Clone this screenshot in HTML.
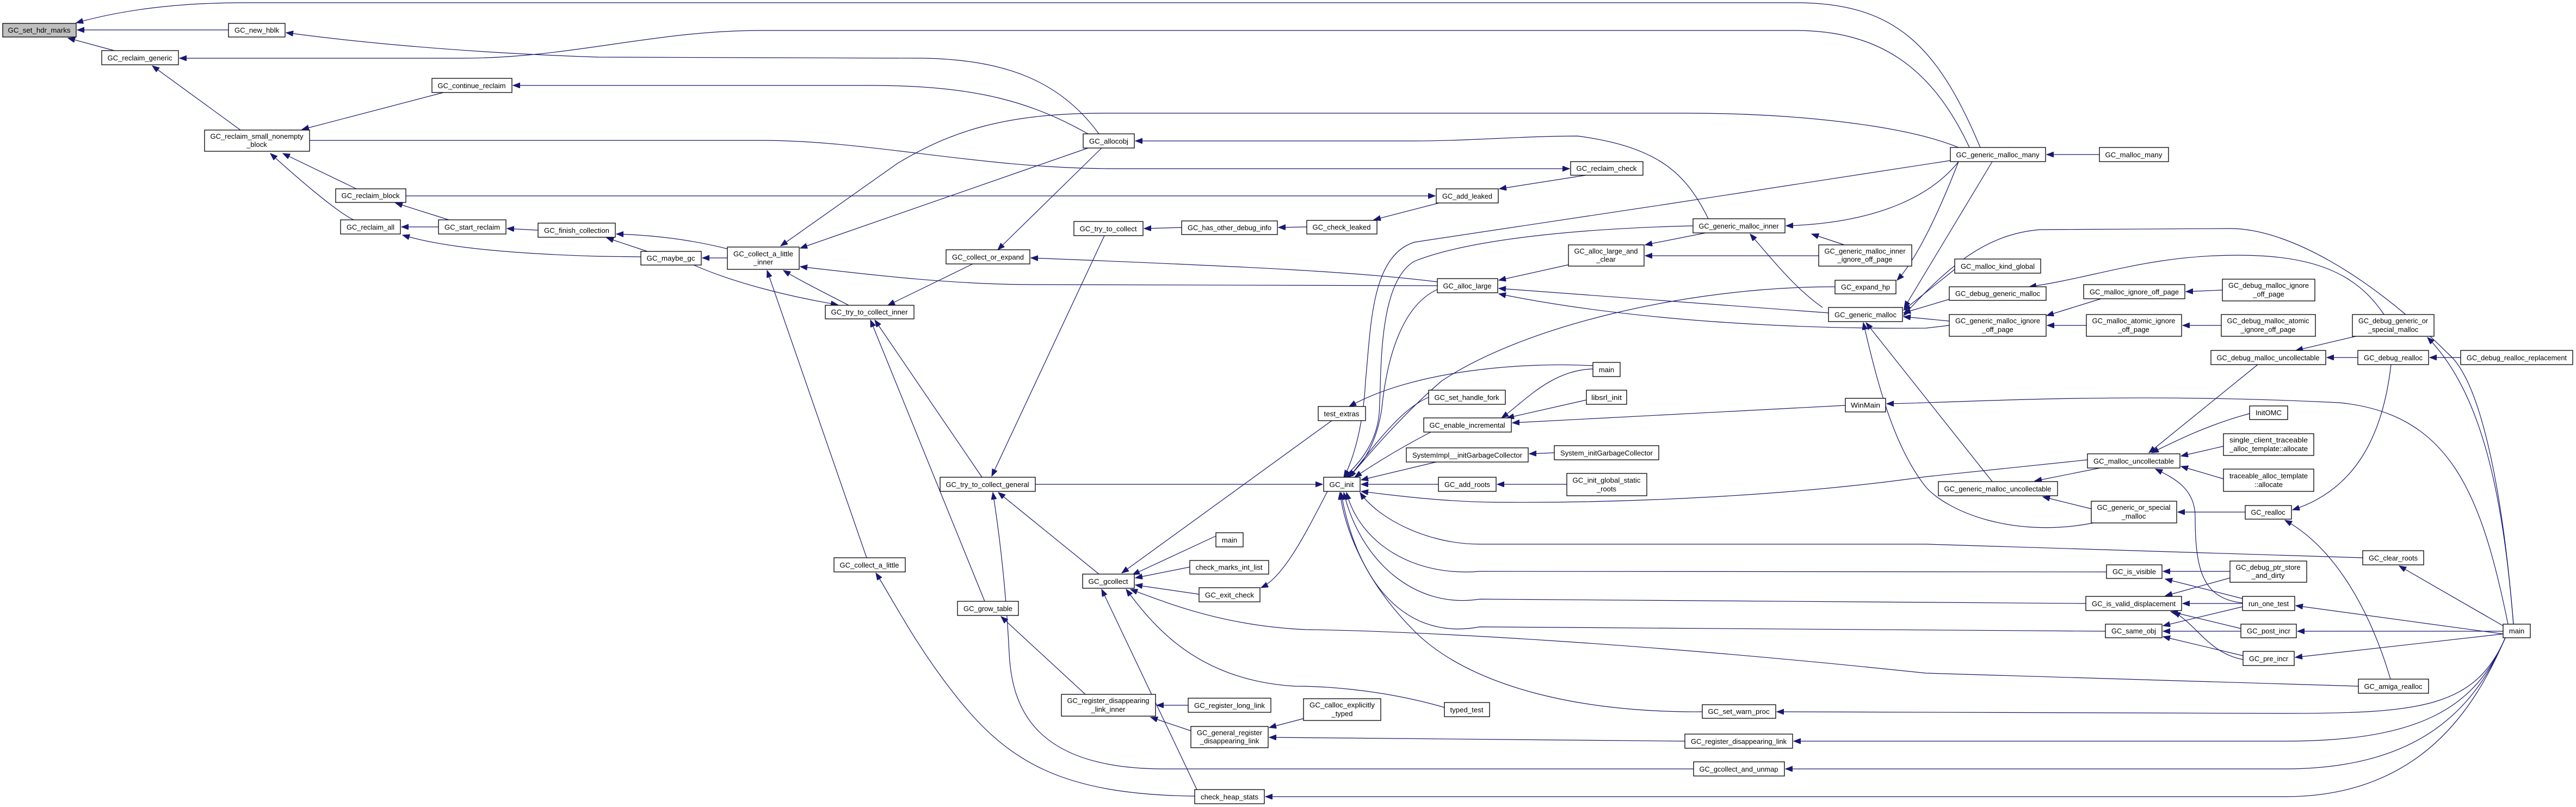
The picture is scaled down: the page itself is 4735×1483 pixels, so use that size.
<!DOCTYPE html>
<html><head><meta charset="utf-8"><style>
html,body{margin:0;padding:0;background:#fff;}
svg{display:block;}
text{font-family:"Liberation Sans",sans-serif;font-size:13px;fill:#000;text-anchor:middle;}
.n{fill:#fff;stroke:#000;stroke-width:1.3;}
.g{fill:#bfbfbf;stroke:#000;stroke-width:1.3;}
path{fill:none;stroke:#191970;stroke-width:1.2;}
</style></head><body>
<svg width="4735" height="1483" viewBox="0 0 4735 1483" xmlns="http://www.w3.org/2000/svg">
<defs><marker id="a" markerUnits="userSpaceOnUse" markerWidth="14" markerHeight="12" refX="13" refY="5" orient="auto"><path d="M0,0 L13,5 L0,10 z" style="fill:#191970;stroke:#191970;stroke-width:1"/></marker></defs>
<g marker-end="url(#a)">
<path d="M420,55 L142,55"/>
<path d="M210,93 L125,70"/>
<path d="M3640,271 C3560,80 3480,5 3300,5 L450,5 C300,5 200,25 140,42"/>
<path d="M2020,246 C1950,150 1850,110 1700,107 L1100,105 C800,95 600,70 526,60"/>
<path d="M3620,271 C3550,120 3450,56 3300,56 L1400,56 C1200,56 1050,107 850,107 L330,107"/>
<path d="M442,239 L280,121"/>
<path d="M815,170 L555,238"/>
<path d="M569,258 L1400,258 C1600,258 1800,310 2050,310 L2885,310"/>
<path d="M655,347 L520,282"/>
<path d="M650,404 C620,390 550,330 497,282"/>
<path d="M2000,246 C1900,190 1800,157 1600,157 L943,157"/>
<path d="M746,360 L2638,360"/>
<path d="M825,404 L727,373"/>
<path d="M806,417 L738,417"/>
<path d="M989,423 L932,420"/>
<path d="M1190,462 L1115,437"/>
<path d="M1340,458 C1270,440 1200,432 1133,430"/>
<path d="M1180,472 L1100,471 C900,465 800,450 740,432"/>
<path d="M1337,474 L1291,474"/>
<path d="M1275,487 C1350,520 1450,545 1540,560"/>
<path d="M1560,561 C1500,530 1470,515 1440,497"/>
<path d="M1788,485 L1632,561"/>
<path d="M2000,272 L1471,456"/>
<path d="M3600,271 C3500,230 3300,208 3100,208 L2030,208 C1850,208 1750,240 1650,300 C1550,370 1480,420 1435,452"/>
<path d="M2025,272 L1834,459"/>
<path d="M2642,525 L1900,523 C1750,523 1600,505 1471,490"/>
<path d="M2642,518 C2500,500 2300,490 1895,474"/>
<path d="M2030,433 L1823,875"/>
<path d="M2172,418 L2103,420"/>
<path d="M2402,417 L2350,418"/>
<path d="M2645,373 L2525,404"/>
<path d="M2915,322 L2756,347"/>
<path d="M1593,1025 L1410,497"/>
<path d="M1805,877 L1608,588"/>
<path d="M1810,1105 L1600,588"/>
<path d="M2020,1055 L1835,905"/>
<path d="M1903,890 L2431,890"/>
<path d="M2196,1463 C1950,1460 1850,1400 1750,1270 C1680,1180 1640,1100 1610,1053"/>
<path d="M3113,1413 L2140,1413 C1900,1413 1860,1300 1855,1200 C1850,1100 1840,1000 1825,905"/>
<path d="M1995,1276 L1840,1133"/>
<path d="M2200,1451 L2025,1083"/>
<path d="M2448,773 L2062,1053"/>
<path d="M2235,985 L2082,1056"/>
<path d="M2187,1042 L2087,1062"/>
<path d="M2204,1092 L2087,1075"/>
<path d="M4335,1261 L3540,1237 C3000,1180 2600,1160 2400,1157 C2250,1150 2150,1110 2078,1083"/>
<path d="M2655,1300 C2550,1270 2450,1261 2380,1261 C2200,1250 2120,1150 2070,1083"/>
<path d="M2440,903 C2400,980 2360,1060 2318,1080"/>
<path d="M2184,1296 L2126,1296"/>
<path d="M2189,1343 L2115,1318"/>
<path d="M2398,1320 L2333,1337"/>
<path d="M3097,1362 L2333,1355"/>
<path d="M4605,1172 C4550,1300 4450,1464 4200,1464 L2326,1464"/>
<path d="M4605,1172 C4550,1300 4450,1413 4200,1413 L3282,1413"/>
<path d="M4605,1172 C4550,1300 4450,1362 4200,1362 L3297,1362"/>
<path d="M4605,1172 C4550,1300 4450,1311 4200,1311 L3266,1308"/>
<path d="M2928,672 C2800,665 2600,680 2480,747"/>
<path d="M2642,532 C2580,560 2550,650 2540,750 C2530,820 2500,860 2475,877"/>
<path d="M3112,415 C2900,420 2700,440 2600,480 C2530,520 2540,700 2535,760 C2530,820 2490,860 2470,877"/>
<path d="M3373,527 C3100,527 2800,600 2650,700 C2580,760 2520,830 2480,877"/>
<path d="M2626,730 C2580,750 2540,800 2480,877"/>
<path d="M2630,794 C2580,820 2530,850 2490,877"/>
<path d="M2640,849 L2502,882"/>
<path d="M2644,890 L2502,890"/>
<path d="M3837,845 L3540,876 C3300,910 3000,925 2750,923 C2650,922 2560,910 2502,903"/>
<path d="M4343,1025 L3540,1000 L2720,1000 C2620,1000 2530,950 2500,905"/>
<path d="M3872,1051 L2720,1050 C2600,1060 2500,1000 2475,905"/>
<path d="M3834,1109 L2720,1101 C2600,1120 2500,1030 2470,905"/>
<path d="M3870,1160 L2720,1152 C2570,1180 2490,1050 2465,905"/>
<path d="M3129,1308 C2900,1310 2700,1260 2600,1160 C2500,1060 2470,960 2463,905"/>
<path d="M3585,295 C3300,340 2900,400 2600,445 C2520,470 2520,600 2510,700 C2505,800 2480,860 2470,877"/>
<path d="M2928,678 C2850,680 2800,740 2760,768"/>
<path d="M2916,735 L2770,768"/>
<path d="M3392,745 L2780,777"/>
<path d="M2857,832 L2811,834"/>
<path d="M2880,890 L2752,890"/>
<path d="M3600,297 C3550,360 3450,410 3283,415"/>
<path d="M3390,450 L3330,430"/>
<path d="M3350,565 C3300,530 3260,480 3217,430"/>
<path d="M3140,402 C3100,320 3050,270 2900,250 C2800,250 2700,259 2600,259 L2087,259"/>
<path d="M3135,428 L3024,450"/>
<path d="M3343,470 L3024,470"/>
<path d="M2890,485 L2755,515"/>
<path d="M3361,575 L2755,530"/>
<path d="M3583,598 L3540,603 C3300,605 3000,590 2755,540"/>
<path d="M3600,297 C3560,400 3520,480 3487,515"/>
<path d="M3662,297 L3500,566"/>
<path d="M3593,495 L3499,570"/>
<path d="M3583,550 L3499,575"/>
<path d="M3583,590 L3499,582"/>
<path d="M3662,885 L3430,593"/>
<path d="M3848,961 C3700,990 3580,940 3540,895 C3480,820 3450,700 3425,593"/>
<path d="M4620,1147 C4600,900 4560,700 4500,650 C4350,500 4200,420 4100,420 L3750,422 C3650,430 3580,490 3499,580"/>
<path d="M4382,578 C4330,500 4250,469 4112,469 C3950,469 3850,510 3730,527"/>
<path d="M3862,549 L3762,580"/>
<path d="M3835,598 L3763,598"/>
<path d="M4085,533 L4018,536"/>
<path d="M4083,598 L4012,598"/>
<path d="M4330,618 L4220,644"/>
<path d="M4334,657 L4277,657"/>
<path d="M4523,657 L4466,657"/>
<path d="M4620,1147 C4600,900 4560,720 4462,620"/>
<path d="M4395,670 C4380,800 4330,900 4214,937"/>
<path d="M4150,670 L3950,832"/>
<path d="M4135,760 C4060,780 4000,810 3955,832"/>
<path d="M4087,820 L4009,838"/>
<path d="M4087,880 L4009,857"/>
<path d="M3860,860 L3740,884"/>
<path d="M3844,935 L3755,913"/>
<path d="M4127,941 L4003,941"/>
<path d="M4394,1248 C4350,1100 4280,1000 4200,956"/>
<path d="M4122,1108 C4050,1100 4035,1050 4035,950 C4035,900 4000,880 3962,862"/>
<path d="M4099,1050 L3976,1050"/>
<path d="M4122,1100 L3980,1064"/>
<path d="M4099,1062 L3980,1095"/>
<path d="M4122,1109 L4012,1109"/>
<path d="M4122,1115 L3976,1150"/>
<path d="M4119,1155 L3990,1124"/>
<path d="M4119,1160 L3976,1160"/>
<path d="M4123,1205 L3976,1170"/>
<path d="M4123,1212 C4060,1200 4040,1150 3995,1124"/>
<path d="M4601,1165 L4220,1113"/>
<path d="M4601,1160 L4223,1160"/>
<path d="M4601,1165 L4219,1208"/>
<path d="M4601,1150 L4410,1040"/>
<path d="M4610,1147 C4560,900 4500,760 4300,740 C3900,720 3600,740 3468,742"/>
<path d="M3859,284 L3762,284"/>
</g>
<g>
<rect class="g" x="5" y="43" width="135" height="25"/><text x="72" y="60" textLength="115" lengthAdjust="spacingAndGlyphs">GC_set_hdr_marks</text>
<rect class="n" x="420" y="43" width="104" height="25"/><text x="472" y="60" textLength="82" lengthAdjust="spacingAndGlyphs">GC_new_hblk</text>
<rect class="n" x="187" y="93" width="141" height="26"/><text x="257" y="111" textLength="119" lengthAdjust="spacingAndGlyphs">GC_reclaim_generic</text>
<rect class="n" x="794" y="144" width="147" height="26"/><text x="867" y="162" textLength="125" lengthAdjust="spacingAndGlyphs">GC_continue_reclaim</text>
<rect class="n" x="376" y="239" width="193" height="39"/><text x="472" y="255" textLength="171" lengthAdjust="spacingAndGlyphs">GC_reclaim_small_nonempty</text><text x="472" y="270">_block</text>
<rect class="n" x="617" y="347" width="129" height="25"/><text x="681" y="364" textLength="107" lengthAdjust="spacingAndGlyphs">GC_reclaim_block</text>
<rect class="n" x="626" y="404" width="110" height="26"/><text x="681" y="422" textLength="88" lengthAdjust="spacingAndGlyphs">GC_reclaim_all</text>
<rect class="n" x="806" y="404" width="124" height="26"/><text x="868" y="422" textLength="102" lengthAdjust="spacingAndGlyphs">GC_start_reclaim</text>
<rect class="n" x="989" y="410" width="142" height="26"/><text x="1060" y="428" textLength="120" lengthAdjust="spacingAndGlyphs">GC_finish_collection</text>
<rect class="n" x="1178" y="462" width="111" height="25"/><text x="1233" y="479" textLength="89" lengthAdjust="spacingAndGlyphs">GC_maybe_gc</text>
<rect class="n" x="1337" y="454" width="132" height="41"/><text x="1403" y="471" textLength="110" lengthAdjust="spacingAndGlyphs">GC_collect_a_little</text><text x="1403" y="486">_inner</text>
<rect class="n" x="1517" y="561" width="163" height="25"/><text x="1598" y="578" textLength="141" lengthAdjust="spacingAndGlyphs">GC_try_to_collect_inner</text>
<rect class="n" x="1739" y="459" width="154" height="26"/><text x="1816" y="477" textLength="132" lengthAdjust="spacingAndGlyphs">GC_collect_or_expand</text>
<rect class="n" x="1991" y="246" width="94" height="26"/><text x="2038" y="264" textLength="72" lengthAdjust="spacingAndGlyphs">GC_allocobj</text>
<rect class="n" x="1974" y="407" width="127" height="26"/><text x="2037" y="425" textLength="105" lengthAdjust="spacingAndGlyphs">GC_try_to_collect</text>
<rect class="n" x="2172" y="406" width="176" height="25"/><text x="2260" y="423" textLength="154" lengthAdjust="spacingAndGlyphs">GC_has_other_debug_info</text>
<rect class="n" x="2887" y="297" width="133" height="25"/><text x="2953" y="314" textLength="111" lengthAdjust="spacingAndGlyphs">GC_reclaim_check</text>
<rect class="n" x="2640" y="347" width="114" height="26"/><text x="2697" y="365" textLength="92" lengthAdjust="spacingAndGlyphs">GC_add_leaked</text>
<rect class="n" x="2402" y="405" width="129" height="25"/><text x="2466" y="422" textLength="107" lengthAdjust="spacingAndGlyphs">GC_check_leaked</text>
<rect class="n" x="3112" y="402" width="169" height="26"/><text x="3196" y="420" textLength="147" lengthAdjust="spacingAndGlyphs">GC_generic_malloc_inner</text>
<rect class="n" x="2883" y="450" width="139" height="39"/><text x="2952" y="466" textLength="117" lengthAdjust="spacingAndGlyphs">GC_alloc_large_and</text><text x="2952" y="481">_clear</text>
<rect class="n" x="3343" y="450" width="171" height="39"/><text x="3428" y="466" textLength="149" lengthAdjust="spacingAndGlyphs">GC_generic_malloc_inner</text><text x="3428" y="481">_ignore_off_page</text>
<rect class="n" x="2642" y="512" width="111" height="26"/><text x="2697" y="530" textLength="89" lengthAdjust="spacingAndGlyphs">GC_alloc_large</text>
<rect class="n" x="3373" y="515" width="112" height="25"/><text x="3429" y="532" textLength="90" lengthAdjust="spacingAndGlyphs">GC_expand_hp</text>
<rect class="n" x="3361" y="565" width="136" height="26"/><text x="3429" y="583" textLength="114" lengthAdjust="spacingAndGlyphs">GC_generic_malloc</text>
<rect class="n" x="2928" y="666" width="50" height="26"/><text x="2953" y="684">main</text>
<rect class="n" x="2626" y="717" width="141" height="26"/><text x="2696" y="735" textLength="119" lengthAdjust="spacingAndGlyphs">GC_set_handle_fork</text>
<rect class="n" x="2916" y="717" width="74" height="26"/><text x="2953" y="735" textLength="56" lengthAdjust="spacingAndGlyphs">libsrl_init</text>
<rect class="n" x="3392" y="732" width="74" height="25"/><text x="3429" y="749" textLength="54" lengthAdjust="spacingAndGlyphs">WinMain</text>
<rect class="n" x="2423" y="747" width="87" height="26"/><text x="2466" y="765" textLength="65" lengthAdjust="spacingAndGlyphs">test_extras</text>
<rect class="n" x="3585" y="271" width="175" height="26"/><text x="3672" y="289" textLength="153" lengthAdjust="spacingAndGlyphs">GC_generic_malloc_many</text>
<rect class="n" x="3859" y="271" width="127" height="26"/><text x="3922" y="289" textLength="105" lengthAdjust="spacingAndGlyphs">GC_malloc_many</text>
<rect class="n" x="3593" y="476" width="158" height="26"/><text x="3672" y="494" textLength="136" lengthAdjust="spacingAndGlyphs">GC_malloc_kind_global</text>
<rect class="n" x="3583" y="527" width="178" height="25"/><text x="3672" y="544" textLength="156" lengthAdjust="spacingAndGlyphs">GC_debug_generic_malloc</text>
<rect class="n" x="3830" y="523" width="186" height="26"/><text x="3923" y="541" textLength="164" lengthAdjust="spacingAndGlyphs">GC_malloc_ignore_off_page</text>
<rect class="n" x="4085" y="513" width="170" height="40"/><text x="4170" y="529" textLength="148" lengthAdjust="spacingAndGlyphs">GC_debug_malloc_ignore</text><text x="4170" y="545">_off_page</text>
<rect class="n" x="3583" y="578" width="178" height="40"/><text x="3672" y="594" textLength="156" lengthAdjust="spacingAndGlyphs">GC_generic_malloc_ignore</text><text x="3672" y="610">_off_page</text>
<rect class="n" x="3835" y="578" width="175" height="40"/><text x="3922" y="594" textLength="153" lengthAdjust="spacingAndGlyphs">GC_malloc_atomic_ignore</text><text x="3922" y="610">_off_page</text>
<rect class="n" x="4083" y="578" width="173" height="40"/><text x="4169" y="594" textLength="151" lengthAdjust="spacingAndGlyphs">GC_debug_malloc_atomic</text><text x="4169" y="610">_ignore_off_page</text>
<rect class="n" x="4324" y="578" width="150" height="40"/><text x="4399" y="594" textLength="128" lengthAdjust="spacingAndGlyphs">GC_debug_generic_or</text><text x="4399" y="610">_special_malloc</text>
<rect class="n" x="4064" y="644" width="211" height="26"/><text x="4169" y="662" textLength="189" lengthAdjust="spacingAndGlyphs">GC_debug_malloc_uncollectable</text>
<rect class="n" x="4334" y="644" width="130" height="26"/><text x="4399" y="662" textLength="108" lengthAdjust="spacingAndGlyphs">GC_debug_realloc</text>
<rect class="n" x="4523" y="644" width="206" height="26"/><text x="4626" y="662" textLength="184" lengthAdjust="spacingAndGlyphs">GC_debug_realloc_replacement</text>
<rect class="n" x="1728" y="877" width="175" height="26"/><text x="1815" y="895" textLength="153" lengthAdjust="spacingAndGlyphs">GC_try_to_collect_general</text>
<rect class="n" x="1533" y="1025" width="131" height="26"/><text x="1598" y="1043" textLength="109" lengthAdjust="spacingAndGlyphs">GC_collect_a_little</text>
<rect class="n" x="1990" y="1055" width="95" height="26"/><text x="2037" y="1073" textLength="73" lengthAdjust="spacingAndGlyphs">GC_gcollect</text>
<rect class="n" x="2235" y="979" width="50" height="26"/><text x="2260" y="997">main</text>
<rect class="n" x="2187" y="1030" width="145" height="25"/><text x="2259" y="1047" textLength="123" lengthAdjust="spacingAndGlyphs">check_marks_int_list</text>
<rect class="n" x="2204" y="1080" width="112" height="26"/><text x="2260" y="1098" textLength="90" lengthAdjust="spacingAndGlyphs">GC_exit_check</text>
<rect class="n" x="1760" y="1105" width="112" height="26"/><text x="1816" y="1123" textLength="90" lengthAdjust="spacingAndGlyphs">GC_grow_table</text>
<rect class="n" x="1951" y="1276" width="173" height="40"/><text x="2037" y="1292" textLength="151" lengthAdjust="spacingAndGlyphs">GC_register_disappearing</text><text x="2037" y="1308">_link_inner</text>
<rect class="n" x="2184" y="1283" width="152" height="26"/><text x="2260" y="1301" textLength="130" lengthAdjust="spacingAndGlyphs">GC_register_long_link</text>
<rect class="n" x="2189" y="1335" width="142" height="39"/><text x="2260" y="1351" textLength="120" lengthAdjust="spacingAndGlyphs">GC_general_register</text><text x="2260" y="1366">_disappearing_link</text>
<rect class="n" x="2196" y="1451" width="128" height="26"/><text x="2260" y="1469" textLength="106" lengthAdjust="spacingAndGlyphs">check_heap_stats</text>
<rect class="n" x="2617" y="768" width="161" height="26"/><text x="2697" y="786" textLength="139" lengthAdjust="spacingAndGlyphs">GC_enable_incremental</text>
<rect class="n" x="2585" y="823" width="224" height="26"/><text x="2697" y="841" textLength="202" lengthAdjust="spacingAndGlyphs">SystemImpl__initGarbageCollector</text>
<rect class="n" x="2857" y="819" width="192" height="26"/><text x="2953" y="837" textLength="170" lengthAdjust="spacingAndGlyphs">System_initGarbageCollector</text>
<rect class="n" x="2433" y="877" width="67" height="26"/><text x="2466" y="895" textLength="45" lengthAdjust="spacingAndGlyphs">GC_init</text>
<rect class="n" x="2644" y="877" width="106" height="26"/><text x="2697" y="895" textLength="84" lengthAdjust="spacingAndGlyphs">GC_add_roots</text>
<rect class="n" x="2880" y="870" width="147" height="41"/><text x="2953" y="887" textLength="125" lengthAdjust="spacingAndGlyphs">GC_init_global_static</text><text x="2953" y="903">_roots</text>
<rect class="n" x="2396" y="1284" width="142" height="40"/><text x="2467" y="1300" textLength="120" lengthAdjust="spacingAndGlyphs">GC_calloc_explicitly</text><text x="2467" y="1316">_typed</text>
<rect class="n" x="2655" y="1291" width="83" height="26"/><text x="2696" y="1309" textLength="61" lengthAdjust="spacingAndGlyphs">typed_test</text>
<rect class="n" x="3129" y="1295" width="135" height="25"/><text x="3196" y="1312" textLength="113" lengthAdjust="spacingAndGlyphs">GC_set_warn_proc</text>
<rect class="n" x="3097" y="1349" width="198" height="26"/><text x="3196" y="1367" textLength="176" lengthAdjust="spacingAndGlyphs">GC_register_disappearing_link</text>
<rect class="n" x="3113" y="1400" width="167" height="26"/><text x="3196" y="1418" textLength="145" lengthAdjust="spacingAndGlyphs">GC_gcollect_and_unmap</text>
<rect class="n" x="4135" y="746" width="70" height="25"/><text x="4170" y="763" textLength="48" lengthAdjust="spacingAndGlyphs">InitOMC</text>
<rect class="n" x="4087" y="797" width="166" height="40"/><text x="4170" y="813" textLength="144" lengthAdjust="spacingAndGlyphs">single_client_traceable</text><text x="4170" y="829" textLength="144" lengthAdjust="spacingAndGlyphs">_alloc_template::allocate</text>
<rect class="n" x="3837" y="834" width="170" height="26"/><text x="3922" y="852" textLength="148" lengthAdjust="spacingAndGlyphs">GC_malloc_uncollectable</text>
<rect class="n" x="4087" y="862" width="166" height="41"/><text x="4170" y="879" textLength="144" lengthAdjust="spacingAndGlyphs">traceable_alloc_template</text><text x="4170" y="895">::allocate</text>
<rect class="n" x="3563" y="885" width="219" height="26"/><text x="3672" y="903" textLength="197" lengthAdjust="spacingAndGlyphs">GC_generic_malloc_uncollectable</text>
<rect class="n" x="3844" y="921" width="157" height="40"/><text x="3922" y="937" textLength="135" lengthAdjust="spacingAndGlyphs">GC_generic_or_special</text><text x="3922" y="953">_malloc</text>
<rect class="n" x="4127" y="929" width="85" height="25"/><text x="4169" y="946" textLength="63" lengthAdjust="spacingAndGlyphs">GC_realloc</text>
<rect class="n" x="4343" y="1012" width="112" height="26"/><text x="4399" y="1030" textLength="90" lengthAdjust="spacingAndGlyphs">GC_clear_roots</text>
<rect class="n" x="3872" y="1038" width="102" height="25"/><text x="3923" y="1055" textLength="80" lengthAdjust="spacingAndGlyphs">GC_is_visible</text>
<rect class="n" x="4099" y="1031" width="141" height="39"/><text x="4169" y="1047" textLength="119" lengthAdjust="spacingAndGlyphs">GC_debug_ptr_store</text><text x="4169" y="1062">_and_dirty</text>
<rect class="n" x="3834" y="1096" width="176" height="26"/><text x="3922" y="1114" textLength="154" lengthAdjust="spacingAndGlyphs">GC_is_valid_displacement</text>
<rect class="n" x="4122" y="1096" width="96" height="26"/><text x="4170" y="1114" textLength="74" lengthAdjust="spacingAndGlyphs">run_one_test</text>
<rect class="n" x="3870" y="1147" width="104" height="25"/><text x="3922" y="1164" textLength="82" lengthAdjust="spacingAndGlyphs">GC_same_obj</text>
<rect class="n" x="4119" y="1147" width="102" height="25"/><text x="4170" y="1164" textLength="80" lengthAdjust="spacingAndGlyphs">GC_post_incr</text>
<rect class="n" x="4601" y="1147" width="50" height="25"/><text x="4626" y="1164">main</text>
<rect class="n" x="4123" y="1197" width="94" height="26"/><text x="4170" y="1215" textLength="72" lengthAdjust="spacingAndGlyphs">GC_pre_incr</text>
<rect class="n" x="4335" y="1248" width="129" height="26"/><text x="4399" y="1266" textLength="107" lengthAdjust="spacingAndGlyphs">GC_amiga_realloc</text>
</g>
</svg>
</body></html>
